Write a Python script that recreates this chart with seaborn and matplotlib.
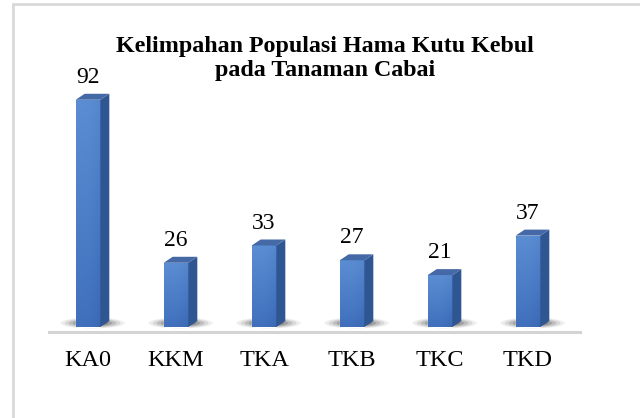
import matplotlib.pyplot as plt
import numpy as np
import pandas as pd
import seaborn as sns
from matplotlib.patches import Polygon, Ellipse, Rectangle
from matplotlib.colors import LinearSegmentedColormap

categories = ['KA0', 'KKM', 'TKA', 'TKB', 'TKC', 'TKD']
values = [92, 26, 33, 27, 21, 37]
title = 'Kelimpahan Populasi Hama Kutu Kebul\npada Tanaman Cabai'

df = pd.DataFrame({'kode': categories, 'jumlah': values})

sns.set_style('white')
plt.rcParams['font.family'] = ['Liberation Serif', 'DejaVu Serif']

W, H = 640, 418
fig = plt.figure(figsize=(6.4, 4.18), dpi=100)

# axes placed in pixels: floor line at y=332, bars centred every 88 px from x=88
px_per_unit_x = 88.0
px_per_unit_y = 2.47
ax_left, ax_right = 49, 580
ax_bottom, ax_top = 332, 60
ax = fig.add_axes([ax_left / W, (H - ax_bottom) / H,
                   (ax_right - ax_left) / W, (ax_bottom - ax_top) / H])

sns.barplot(data=df, x='kode', y='jumlah', color='#4a7cc5', width=0.28,
            saturation=1, ax=ax, zorder=3)

x0 = (ax_left - 88) / px_per_unit_x
y0 = -5 / px_per_unit_y

# 3D depth offsets in data units
dx = 9 / px_per_unit_x
dy = 6 / px_per_unit_y

front_cmap = LinearSegmentedColormap.from_list(
    'front', ['#3a68b4', '#4a7cc6', '#5b8dd3'])
gx = np.linspace(0, 1, 32)
gy = np.linspace(0, 1, 64)
# lighter towards the top, a bit darker at the right edge
grad = gy[:, None] * 0.8 + (1 - gx[None, :] ** 3) * 0.2

for p in list(ax.patches):
    x, w, h = p.get_x(), p.get_width(), p.get_height()
    # soft floor shadow
    for k, a in enumerate([0.07, 0.10, 0.14, 0.18, 0.24, 0.30]):
        s = 1 - k * 0.13
        ax.add_patch(Ellipse((x + w / 2 + dx * 0.5, 1.6), (w + 4.4 * dx) * s,
                             4.4 * s, color='#1c1c1c', alpha=a, lw=0, zorder=1))
    # front gradient
    im = ax.imshow(grad, extent=[x, x + w, 0, h], aspect='auto', origin='lower',
                   cmap=front_cmap, vmin=0, vmax=1, zorder=3.5)
    im.set_clip_path(p)
    # side face
    ax.add_patch(Polygon([(x + w, 0), (x + w + dx, dy), (x + w + dx, h + dy), (x + w, h)],
                         closed=True, facecolor='#2f5592', edgecolor='none', zorder=4))
    # top face
    ax.add_patch(Polygon([(x, h), (x + dx, h + dy), (x + w + dx, h + dy), (x + w, h)],
                         closed=True, facecolor='#4469a6', edgecolor='none', zorder=4))
    ax.annotate(f'{int(round(h))}', (x + w / 2, h), xytext=(0, 12.2),
                textcoords='offset points', ha='center', va='baseline',
                fontsize=17, color='black')

ax.set_xlim(x0, x0 + (ax_right - ax_left) / px_per_unit_x)
ax.set_ylim(y0, y0 + (ax_bottom - ax_top) / px_per_unit_y)

ax.set_xlabel('')
ax.set_ylabel('')
ax.set_yticks([])
for side in ['top', 'right', 'left']:
    ax.spines[side].set_visible(False)
ax.spines['bottom'].set_color('#d4d4d4')
ax.spines['bottom'].set_linewidth(2.2)
ax.tick_params(axis='x', length=0, pad=13, labelsize=17.5, labelcolor='black')
ax.patch.set_alpha(0)

fig.text(325 / W, 1 - 58.5 / H, title, ha='center', va='center', color='black',
         fontsize=17.3, fontweight='bold', linespacing=1.2)

# chart area border (only top and left edges fall inside the image)
fig.patches.append(Rectangle((12.5 / W, -0.05), 1.2, 1 - 4 / H + 0.05,
                             transform=fig.transFigure, fill=False,
                             edgecolor='#d9d9d9', linewidth=2, zorder=0))

fig.savefig('out.png', dpi=100)
